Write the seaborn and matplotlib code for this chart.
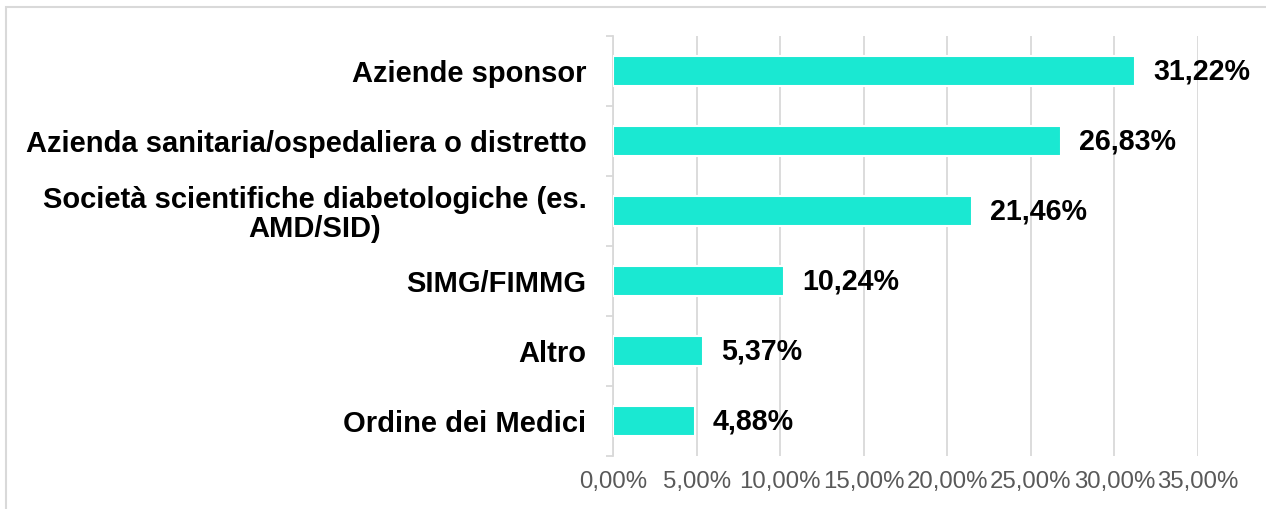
import seaborn as sns
import matplotlib.pyplot as plt
from matplotlib.patches import Rectangle
from matplotlib.ticker import FuncFormatter, FixedLocator

categories = [
    "Aziende sponsor",
    "Azienda sanitaria/ospedaliera o distretto",
    "Società scientifiche diabetologiche (es.\nAMD/SID)",
    "SIMG/FIMMG",
    "Altro",
    "Ordine dei Medici",
]
values = [31.22, 26.83, 21.46, 10.24, 5.37, 4.88]
xticks = [0, 5, 10, 15, 20, 25, 30, 35]

sns.set_style("white")
plt.rcParams["font.family"] = ["Liberation Sans", "DejaVu Sans"]

fig = plt.figure(figsize=(12.66, 5.09), dpi=100)
ax = fig.add_axes([613 / 1266, 1 - 456 / 509, (1198 - 613) / 1266, (456 - 36) / 509])

sns.barplot(x=values, y=categories, color="#1AE8D2", saturation=1,
            width=0.44, edgecolor="white", linewidth=1.5, ax=ax, zorder=3)

ax.set_xlim(0, 35)
ax.set_xticks(xticks)
ax.xaxis.set_major_formatter(FuncFormatter(lambda v, p: f"{v:.2f}".replace(".", ",") + "%"))
ax.grid(axis="x", color="#d9d9d9", linewidth=1.3, zorder=0)
ax.set_axisbelow(True)
ax.tick_params(axis="x", length=0, pad=11, labelsize=17.3, labelcolor="#595959")
ax.tick_params(axis="y", which="major", length=0, pad=19, labelsize=21, labelcolor="black")
for lab in ax.get_yticklabels():
    lab.set_fontweight("bold")
    lab.set_multialignment("center")
    lab.set_linespacing(1.05)
ax.yaxis.set_minor_locator(FixedLocator([i - 0.5 for i in range(len(categories) + 1)]))
ax.tick_params(axis="y", which="minor", length=5, width=1.3, color="#d9d9d9", left=True)
ax.set_xlabel("")
ax.set_ylabel("")

for s in ["top", "right", "bottom"]:
    ax.spines[s].set_visible(False)
ax.spines["left"].set_color("#d9d9d9")
ax.spines["left"].set_linewidth(1.3)

for c in ax.containers:
    ax.bar_label(c, labels=[f"{v:.2f}".replace(".", ",") + "%" for v in values],
                 padding=13, fontsize=20.6, fontweight="bold", color="black")

fig.patches.append(Rectangle((6 / 1266, -0.1), 1.2, 1 - 7 / 509 + 0.1,
                             transform=fig.transFigure, fill=False,
                             edgecolor="#d9d9d9", linewidth=1.5))

fig.savefig("out.png", dpi=100)
